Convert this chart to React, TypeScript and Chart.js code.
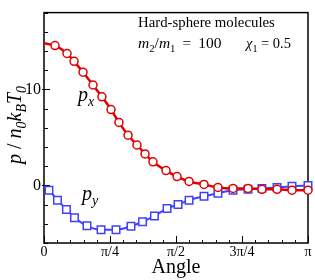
import React, { useEffect, useRef } from "react";
import { Chart, registerables } from "chart.js";

Chart.register(...registerables);

// angle in degrees (0..180 = 0..π)
const pxAngles = [0, 7.5, 15.7, 20.5, 26.6, 33.4, 39.5, 45.7, 51.1, 57.3, 63.4, 68.9, 74.3, 83.2, 90.7, 98.9, 109.1, 118.6, 128.9, 139.1, 148.6, 158.9, 169.1, 180];
const pxValues = [14.8, 14.56, 13.74, 12.92, 11.79, 10.46, 9.23, 7.9, 6.56, 5.23, 4.21, 3.28, 2.46, 1.54, 0.92, 0.41, 0.1, -0.21, -0.31, -0.31, -0.41, -0.41, -0.5, -0.5];
const pyAngles = [0, 3.4, 9.2, 15.3, 20.8, 29.3, 38.9, 49.1, 59.3, 67.2, 75.3, 83.9, 91.4, 98.9, 109.1, 118.6, 128.9, 139.1, 148.6, 158.9, 169.1, 180];
const pyValues = [-0.1, -0.51, -1.54, -2.51, -3.38, -4.21, -4.62, -4.62, -4.26, -3.79, -3.18, -2.4, -2.0, -1.54, -1.13, -0.82, -0.51, -0.41, -0.31, -0.21, -0.1, 0.0];
const xTickLabels: Record<number, string> = { 0: "0", 45: "π/4", 90: "π/2", 135: "3π/4", 180: "π" };
const yTickLabels = [0, 10];

const SERIF = "'Liberation Serif', 'DejaVu Serif', serif";
const RED = "rgb(225,0,0)";
const BLUE = "rgb(64,64,255)";

type Seg = { t: string; it?: boolean; sub?: boolean };

function richWidth(ctx: CanvasRenderingContext2D, segs: Seg[], size: number) {
  let w = 0;
  for (const s of segs) {
    const fs = s.sub ? size * 0.7 : size;
    ctx.font = `${s.it ? "italic " : ""}${fs}px ${SERIF}`;
    w += ctx.measureText(s.t).width;
  }
  return w;
}

function drawRich(ctx: CanvasRenderingContext2D, segs: Seg[], x: number, y: number, size: number) {
  let cx = x;
  ctx.textBaseline = "alphabetic";
  ctx.textAlign = "left";
  for (const s of segs) {
    const fs = s.sub ? size * 0.7 : size;
    ctx.font = `${s.it ? "italic " : ""}${fs}px ${SERIF}`;
    ctx.fillText(s.t, cx, s.sub ? y + size * 0.25 : y);
    cx += ctx.measureText(s.t).width;
  }
  return cx;
}

const framePlugin = {
  id: "frameTicks",
  beforeDatasetsDraw(chart: any) {
    const { ctx, chartArea: a, scales } = chart;
    ctx.save();
    ctx.strokeStyle = "#000";
    ctx.lineWidth = 1;
    for (let v = 0; v <= 180; v += 9) {
      const x = Math.round(scales.x.getPixelForValue(v)) + 0.5;
      const len = v % 45 === 0 ? 7 : 3;
      ctx.beginPath();
      ctx.moveTo(x, a.bottom);
      ctx.lineTo(x, a.bottom - len);
      ctx.stroke();
    }
    for (let v = -6; v <= 18; v += 2) {
      const y = Math.round(scales.y.getPixelForValue(v)) + 0.5;
      const major = v % 10 === 0;
      ctx.beginPath();
      ctx.moveTo(a.left - (major ? 2 : 0), y);
      ctx.lineTo(a.left + (major ? 6 : 4), y);
      ctx.stroke();
    }
    ctx.lineWidth = 1.5;
    ctx.strokeRect(a.left, a.top, a.right - a.left, a.bottom - a.top);
    ctx.restore();
  },
  afterDraw(chart: any) {
    const { ctx } = chart;
    ctx.save();
    ctx.fillStyle = "#000";
    drawRich(ctx, [{ t: "Hard-sphere molecules" }], 138, 27, 14.8);
    drawRich(ctx, [{ t: "m", it: true }, { t: "2", sub: true }, { t: "/" }, { t: "m", it: true }, { t: "1", sub: true }, { t: " \u2009=\u2009 100" }], 138, 48, 15.5);
    drawRich(ctx, [{ t: "χ", it: true }, { t: "1", sub: true }, { t: " = 0.5" }], 246, 48, 14.5);
    drawRich(ctx, [{ t: "p", it: true }, { t: "x", it: true, sub: true }], 78, 101, 20);
    drawRich(ctx, [{ t: "p", it: true }, { t: "y", it: true, sub: true }], 82, 200, 20);
    const title: Seg[] = [
      { t: "p", it: true }, { t: " / " }, { t: "n", it: true }, { t: "0", it: true, sub: true },
      { t: "k", it: true }, { t: "B", it: true, sub: true }, { t: "T", it: true }, { t: "0", it: true, sub: true },
    ];
    const sz = 20;
    const w = richWidth(ctx, title, sz);
    ctx.translate(21, 125);
    ctx.rotate(-Math.PI / 2);
    drawRich(ctx, title, -w / 2, 0, sz);
    ctx.restore();
  },
};

export default function App() {
  const ref = useRef<HTMLCanvasElement | null>(null);
  useEffect(() => {
    if (!ref.current) return;
    const chart = new Chart(ref.current, {
      type: "line",
      data: {
        datasets: [
          {
            label: "p_x",
            data: pxAngles.map((a, i) => ({ x: a, y: pxValues[i] })),
            borderColor: RED,
            backgroundColor: "#fff",
            borderWidth: 2.5,
            pointRadius: pxAngles.map((a) => (a === 0 ? 0 : 4)),
            pointStyle: "circle",
            pointBorderWidth: 1.5,
            pointBorderColor: RED,
            pointBackgroundColor: "#fff",
            cubicInterpolationMode: "monotone",
            clip: false as any,
          },
          {
            label: "p_y",
            data: pyAngles.map((a, i) => ({ x: a, y: pyValues[i] })),
            borderColor: BLUE,
            backgroundColor: "#fff",
            borderWidth: 2,
            pointRadius: pyAngles.map((a) => (a === 0 ? 0 : 5.3)),
            pointStyle: "rect",
            pointBorderWidth: 1.5,
            pointBorderColor: BLUE,
            pointBackgroundColor: "#fff",
            cubicInterpolationMode: "monotone",
            clip: false as any,
          },
        ],
      },
      options: {
        animation: false,
        responsive: false,
        maintainAspectRatio: false,
        layout: { padding: { top: 9, right: 7, left: 0, bottom: 0 } },
        plugins: { legend: { display: false }, tooltip: { enabled: false }, title: { display: false } },
        scales: {
          x: {
            type: "linear",
            min: 0,
            max: 180,
            grid: { display: false, drawTicks: false },
            border: { display: false },
            ticks: {
              stepSize: 9,
              autoSkip: false,
              maxRotation: 0,
              padding: 1,
              color: "#000",
              font: { family: SERIF, size: 14 },
              callback: (v: any) => xTickLabels[Math.round(Number(v))] ?? "",
            },
            title: {
              display: true,
              text: "Angle",
              color: "#000",
              font: { family: SERIF, size: 20 },
              padding: { top: -4, bottom: 0 },
            },
            afterFit: (s: any) => { s.height = 37; },
          },
          y: {
            type: "linear",
            min: -6,
            max: 18,
            grid: { display: false, drawTicks: false },
            border: { display: false },
            ticks: {
              stepSize: 2,
              autoSkip: false,
              padding: 3,
              color: "#000",
              font: { family: SERIF, size: 16 },
              callback: (v: any) => (yTickLabels.includes(Number(v)) ? String(v) : ""),
            },
            afterFit: (s: any) => { s.width = 44; },
          },
        },
      },
      plugins: [framePlugin],
    });
    return () => chart.destroy();
  }, []);
  return (
    <div style={{ position: "fixed", left: 0, top: 0, width: 315, height: 280, background: "#fff" }}>
      <canvas ref={ref} width={315} height={280} style={{ width: 315, height: 280, display: "block" }} />
    </div>
  );
}
